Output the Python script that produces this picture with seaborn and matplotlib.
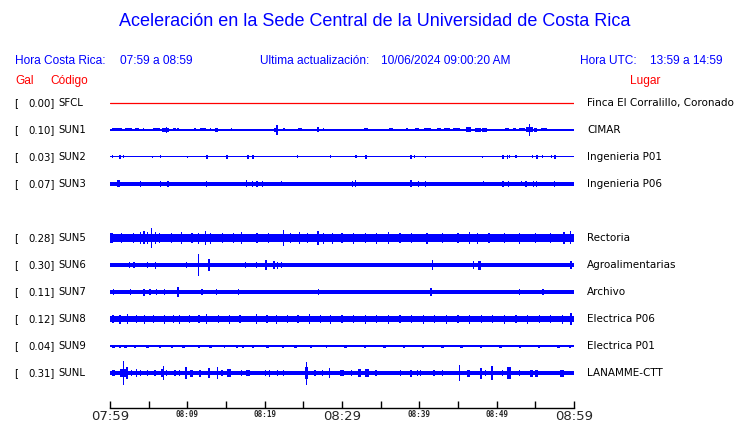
import matplotlib
matplotlib.use("Agg")
import matplotlib.pyplot as plt
import seaborn as sns
import pandas as pd

sns.set_theme(style="white")
plt.rcParams['font.family'] = ['DejaVu Sans']

# ---------------- data ----------------
stations = ["SFCL", "SUN1", "SUN2", "SUN3", "SUN5", "SUN6", "SUN7", "SUN8", "SUN9", "SUNL"]
rows = [0, 1, 2, 3, 5, 6, 7, 8, 9, 10]          # SUN4 slot empty
gal = ["0.00", "0.10", "0.03", "0.07", "0.28", "0.30", "0.11", "0.12", "0.04", "0.31"]
places = ["Finca El Corralillo, Coronado", "CIMAR", "Ingenieria P01", "Ingenieria P06",
          "Rectoria", "Agroalimentarias", "Archivo", "Electrica P06", "Electrica P01", "LANAMME-CTT"]
tick_minutes = [0, 5, 10, 15, 20, 25, 30, 35, 40, 45, 50, 55, 60]
tick_labels = ["07:59", "", "08:09", "", "08:19", "", "08:29", "", "08:39", "", "08:49", "", "08:59"]

# base half-thickness of each trace (px)
base_half = [0.5, 0.6, 0.5, 2.0, 4.2, 2.0, 2.0, 3.3, 0.6, 1.8]

# events: (minute, half amplitude px, duration minutes)
SFCL_ev = []
SUN1_ev = [(0.85, 1.5, 1.3), (2.35, 1.5, 0.9), (3.45, 1.5, 0.5), (4.3, 1.5, 0.15), (6.05, 1.5, 0.9),
           (7.2, 2, 0.9), (7.3, 3, 0.15), (8.35, 1.5, 0.3), (8.8, 1.5, 0.15), (11.0, 1.5, 0.3),
           (12.05, 1.5, 0.8), (13.0, 1.5, 0.15), (13.75, 2, 0.4), (15.7, 1.5, 0.15), (17.8, 1.2, 0.15),
           (18.5, 1.2, 0.15), (19.1, 1.2, 0.15), (19.6, 1.2, 0.15), (21.4, 2, 0.5), (21.6, 5, 0.15),
           (22.5, 1.5, 0.2), (23.4, 1.2, 0.15), (24.6, 1.5, 0.5), (26.9, 2.5, 0.3), (27.6, 1.5, 0.2),
           (28.8, 1.2, 0.3), (33.1, 1.5, 0.4), (34.0, 1.2, 0.2), (34.7, 1.2, 0.2), (35.3, 1.2, 0.2),
           (36.35, 1.5, 0.5), (38.4, 1.5, 0.2), (39.7, 1.5, 0.5), (41.05, 1.5, 0.8), (42.5, 1.5, 0.5),
           (43.6, 1.5, 0.8), (44.8, 1.5, 0.9), (46.35, 2.5, 0.6), (47.6, 2, 0.8), (48.4, 2, 0.6),
           (50.4, 1.2, 0.2), (51.3, 1.5, 0.5), (52.25, 1.5, 0.4), (53.3, 1.5, 0.8), (54.2, 2.5, 0.9),
           (54.2, 6, 0.15), (55.0, 2, 0.4), (56.15, 1.5, 0.8), (58.3, 1.2, 0.15), (59.25, 1.2, 0.6)]
SUN2_ev = [(0.3, 1.5, 0.15), (1.3, 2, 0.35), (1.7, 1.5, 0.15), (5.5, 1, 0.15), (6.5, 1.5, 0.15),
           (10.0, 1, 0.15), (12.5, 2, 0.25), (15.1, 2, 0.2), (17.9, 2, 0.25), (18.5, 2, 0.2),
           (24.2, 1.5, 0.15), (28.5, 1.5, 0.15), (31.8, 1.5, 0.3), (33.1, 2, 0.2), (38.9, 2, 0.25),
           (39.4, 1.5, 0.15), (40.8, 1, 0.15), (48.2, 1, 0.15), (50.8, 2, 0.2), (51.4, 2, 0.25),
           (51.7, 1.5, 0.15), (52.5, 1.5, 0.15), (54.6, 1.5, 0.15), (55.2, 2, 0.25), (55.9, 1.5, 0.15),
           (57.1, 1.5, 0.15), (57.6, 2, 0.25)]
SUN3_ev = [(1.1, 3.5, 0.3), (3.9, 3, 0.15), (6.5, 3, 0.15), (7.5, 3, 0.15), (12.5, 3, 0.15),
           (17.7, 3.5, 0.15), (18.4, 3, 0.2), (19.0, 3, 0.15), (19.7, 3, 0.15), (22.2, 2.5, 0.15),
           (31.4, 3, 0.15), (31.7, 3.5, 0.15), (38.9, 3.5, 0.3), (39.9, 3, 0.15), (40.8, 3, 0.15),
           (48.3, 2.5, 0.15), (50.8, 3, 0.2), (51.5, 3, 0.15), (53.2, 2.5, 0.15), (53.8, 3, 0.15),
           (54.8, 3, 0.15), (55.1, 3, 0.15), (57.5, 3, 0.2)]
SUN5_ev = [(0.2, 5, 0.4), (1.5, 5, 0.15), (3.0, 5, 0.15), (3.9, 6, 0.15), (4.4, 6.5, 0.15),
           (4.9, 6, 0.15), (5.4, 10, 0.15), (5.9, 6, 0.2), (6.4, 5, 0.15), (8.0, 5, 0.15),
           (9.2, 6, 0.15), (10.6, 5, 0.15), (11.4, 5.5, 0.15), (12.4, 7, 0.15), (13.0, 5.5, 0.15),
           (14.5, 5, 0.15), (16.0, 5, 0.15), (17.0, 6, 0.15), (19.0, 5, 0.15), (20.5, 5, 0.15),
           (22.4, 8, 0.15), (23.3, 5, 0.15), (24.5, 6, 0.15), (25.5, 5, 0.15), (26.9, 7, 0.15),
           (27.6, 5.5, 0.15), (28.8, 5.5, 0.15), (30.0, 5, 0.15), (31.5, 5.5, 0.15), (33.0, 5, 0.15),
           (34.5, 5.5, 0.15), (36.0, 6, 0.15), (37.5, 5, 0.15), (39.0, 5, 0.15), (41.0, 5.5, 0.15),
           (43.0, 5, 0.15), (45.0, 5, 0.15), (46.5, 6, 0.15), (47.5, 5.5, 0.15), (49.0, 5, 0.15),
           (51.0, 5, 0.15), (53.0, 5.5, 0.15), (55.0, 5, 0.15), (57.0, 5, 0.15), (58.7, 6, 0.15),
           (59.6, 6.5, 0.15)]
SUN6_ev = [(2.5, 3, 0.15), (3.1, 3, 0.15), (4.9, 3, 0.15), (5.9, 3.5, 0.15), (9.9, 3, 0.15),
           (11.4, 11, 0.15), (12.8, 6, 0.2), (17.5, 3, 0.15), (18.9, 3, 0.15), (20.2, 5, 0.2),
           (21.2, 4, 0.3), (21.7, 3.5, 0.15), (22.2, 3, 0.15), (41.7, 5, 0.15), (47.0, 4, 0.2),
           (47.8, 4.5, 0.3), (59.6, 4, 0.2)]
SUN7_ev = [(0.4, 3, 0.15), (2.7, 3, 0.15), (4.4, 3.5, 0.15), (5.2, 3, 0.3), (6.0, 3, 0.15),
           (7.0, 3, 0.15), (8.8, 5, 0.2), (11.9, 3, 0.15), (13.8, 3, 0.15), (16.6, 3, 0.15),
           (27.0, 3, 0.15), (41.5, 4, 0.15), (52.9, 3, 0.15), (56.0, 3, 0.15)]
SUN8_ev = [(0.4, 4, 0.3), (1.3, 4.5, 0.15), (2.3, 5, 0.15), (3.4, 4, 0.15), (4.5, 4.5, 0.15),
           (5.6, 4, 0.15), (7.0, 4.5, 0.15), (8.2, 4, 0.15), (9.0, 4.5, 0.15), (10.3, 4, 0.15),
           (11.5, 4, 0.15), (12.5, 5, 0.2), (14.0, 4, 0.15), (15.5, 4.5, 0.15), (16.8, 4, 0.15),
           (18.9, 5, 0.15), (20.3, 4, 0.15), (21.5, 4.5, 0.15), (23.0, 4, 0.15), (24.3, 4, 0.15),
           (25.8, 5, 0.15), (27.2, 4, 0.15), (28.5, 4.5, 0.15), (30.0, 4, 0.15), (31.5, 4, 0.15),
           (33.0, 4.5, 0.15), (34.5, 4, 0.15), (36.0, 4.5, 0.15), (37.5, 4, 0.15), (39.0, 4, 0.15),
           (40.5, 4.5, 0.15), (42.0, 4, 0.15), (43.5, 4.5, 0.15), (45.0, 4, 0.15), (46.5, 4.5, 0.15),
           (48.0, 4, 0.15), (49.5, 4, 0.15), (51.0, 4.5, 0.15), (52.5, 4, 0.15), (54.0, 4.5, 0.15),
           (55.5, 4, 0.15), (57.0, 4, 0.15), (58.5, 4.5, 0.15), (59.6, 6, 0.2)]
SUN9_ev = [(0.5, 1.5, 0.4), (1.3, 1.5, 0.3), (2.0, 1.5, 0.3), (3.2, 1.5, 0.3), (4.8, 1.5, 0.4),
           (6.5, 1.5, 0.3), (8.0, 1.5, 0.2), (9.5, 1.5, 0.3), (11.5, 1.5, 0.2), (13.0, 1.5, 0.3),
           (14.8, 1.5, 0.2), (16.4, 1.5, 0.3), (17.2, 1.5, 0.3), (18.5, 1.5, 0.3), (20.4, 1.5, 0.4),
           (22.4, 1.5, 0.2), (24.0, 1.5, 0.3), (26.0, 1.5, 0.3), (28.0, 1.5, 0.2), (30.5, 1.5, 0.4),
           (33.0, 1.5, 0.3), (35.5, 1.5, 0.3), (38.0, 1.5, 0.2), (40.5, 1.5, 0.3), (43.0, 1.5, 0.3),
           (45.5, 1.5, 0.4), (48.0, 1.5, 0.3), (50.5, 1.5, 0.3), (53.0, 1.5, 0.3), (55.5, 1.5, 0.3),
           (58.0, 1.5, 0.3), (59.5, 1.5, 0.2)]
SUNL_ev = [(0.4, 3, 0.4), (1.85, 4, 1.0), (1.7, 12, 0.15), (2.2, 6, 0.15), (2.8, 3, 0.15),
           (3.4, 4, 0.15), (3.9, 3, 0.15), (4.9, 3, 0.15), (5.8, 3, 0.3), (6.7, 4, 0.3),
           (6.9, 7, 0.15), (7.3, 3, 0.15), (8.4, 3, 0.3), (9.0, 3, 0.15), (9.8, 6, 0.2),
           (10.55, 3.5, 0.4), (11.6, 3.5, 0.3), (12.8, 5, 0.2), (13.9, 6, 0.2), (14.5, 3, 0.2),
           (15.4, 4, 0.5), (17.0, 3, 0.15), (17.85, 3, 0.4), (20.1, 3, 0.2), (20.6, 3.5, 0.15),
           (21.7, 3, 0.15), (22.4, 3, 0.15), (25.4, 6, 0.3), (25.4, 11.5, 0.15), (26.5, 3, 0.15),
           (27.5, 3, 0.15), (28.4, 5, 0.2), (30.0, 3, 0.4), (31.2, 3, 0.15), (32.3, 4, 0.4),
           (33.2, 4, 0.5), (34.4, 3, 0.15), (37.6, 3, 0.15), (38.9, 3.5, 0.3), (39.8, 3, 0.15),
           (40.2, 3, 0.15), (41.9, 3, 0.15), (43.0, 3, 0.15), (45.2, 8, 0.15), (46.35, 3.5, 0.5),
           (48.0, 5.5, 0.2), (48.6, 3, 0.15), (49.4, 7, 0.15), (50.8, 3, 0.15), (51.6, 6, 0.5),
           (52.9, 3, 0.15), (54.5, 3.5, 0.4), (55.2, 3.5, 0.4), (58.4, 3.5, 0.5)]
events = [SFCL_ev, SUN1_ev, SUN2_ev, SUN3_ev, SUN5_ev, SUN6_ev, SUN7_ev, SUN8_ev, SUN9_ev, SUNL_ev]

# ---------------- layout ----------------
W, H = 740, 423
ROW0, ROWSTEP = 103, 27
X0, X1 = 110, 574
AX_TOP, AX_BOT = 88, 408
BLUE = "#0000ff"
RED = "#ff0000"

fig = plt.figure(figsize=(W / 100, H / 100), dpi=100)
fig.patch.set_facecolor("white")
ax = fig.add_axes([X0 / W, 1 - AX_BOT / H, (X1 - X0) / W, (AX_BOT - AX_TOP) / H])
ax.set_facecolor("white")
ax.set_xlim(0, 60)
ax.set_ylim((AX_BOT - ROW0) / ROWSTEP, (AX_TOP - ROW0) / ROWSTEP)

px = 1.0 / ROWSTEP   # one pixel in row units

# SFCL flat red line via seaborn
sfcl_df = pd.DataFrame({"t": [0, 60], "y": [rows[0], rows[0]]})
sns.lineplot(data=sfcl_df, x="t", y="y", color=RED, linewidth=0.9, ax=ax, legend=False)

for i, (st, r) in enumerate(zip(stations, rows)):
    if i == 0:
        continue
    bh = max(base_half[i], 0.5) * px
    ax.fill_between([0, 60], r - bh, r + bh, color=BLUE, linewidth=0)
    ev = events[i]
    if ev:
        ts = [e[0] for e in ev]
        hs = [e[1] * px for e in ev]
        ws = [max(e[2], 0.13) for e in ev]
        ax.bar(ts, [2 * h for h in hs], bottom=[r - h for h in hs], width=ws,
               color=BLUE, linewidth=0, align="center")

# axis styling
for s in ["top", "left", "right"]:
    ax.spines[s].set_visible(False)
ax.spines["bottom"].set_color("black")
ax.spines["bottom"].set_linewidth(1.0)
ax.set_yticks([])
ax.set_xticks(tick_minutes)
ax.set_xticklabels(tick_labels)
ax.tick_params(axis="x", direction="in", length=5, width=1, color="black", pad=1.5, bottom=True)
big = {"07:59", "08:29", "08:59"}
for lab in ax.get_xticklabels():
    if lab.get_text() in big:
        lab.set_fontsize(9.5)
        lab.set_family("DejaVu Sans")
    else:
        lab.set_fontsize(5.5)
        lab.set_family("DejaVu Sans Mono")
        lab.set_fontweight("bold")
ax.set_xlabel("")
ax.set_ylabel("")
ax.grid(False)

def fx(x):
    return x / W

def fy(y):
    return 1 - y / H

hdr = ["Liberation Sans"]
fig.text(fx(375), fy(22), "Aceleración en la Sede Central de la Universidad de Costa Rica",
         color=BLUE, fontsize=13, family=hdr, ha="center", va="center")
hs_ = 8.6
fig.text(fx(15), fy(61), "Hora Costa Rica:", color=BLUE, fontsize=hs_, family=hdr, va="center")
fig.text(fx(120), fy(61), "07:59 a 08:59", color=BLUE, fontsize=hs_, family=hdr, va="center")
fig.text(fx(260), fy(61), "Ultima actualización:", color=BLUE, fontsize=hs_, family=hdr, va="center")
fig.text(fx(381), fy(61), "10/06/2024 09:00:20 AM", color=BLUE, fontsize=hs_, family=hdr, va="center")
fig.text(fx(580), fy(61), "Hora UTC:", color=BLUE, fontsize=hs_, family=hdr, va="center")
fig.text(fx(650), fy(61), "13:59 a 14:59", color=BLUE, fontsize=hs_, family=hdr, va="center")
fig.text(fx(15), fy(81), "Gal", color=RED, fontsize=hs_, family=hdr, va="center")
fig.text(fx(50), fy(81), "Código", color=RED, fontsize=hs_, family=hdr, va="center")
fig.text(fx(630), fy(81), "Lugar", color=RED, fontsize=hs_, family=hdr, va="center")

for st, r, g, pl in zip(stations, rows, gal, places):
    y = ROW0 + r * ROWSTEP
    fig.text(fx(14), fy(y), "[", fontsize=7.3, color="black", va="center")
    fig.text(fx(55), fy(y), g + "]", fontsize=7.3, color="black", va="center", ha="right")
    fig.text(fx(58), fy(y), st, fontsize=7.3, color="black", va="center")
    fig.text(fx(587), fy(y), pl, fontsize=7.5, color="black", va="center")

fig.savefig("out.png", dpi=100, facecolor="white")
